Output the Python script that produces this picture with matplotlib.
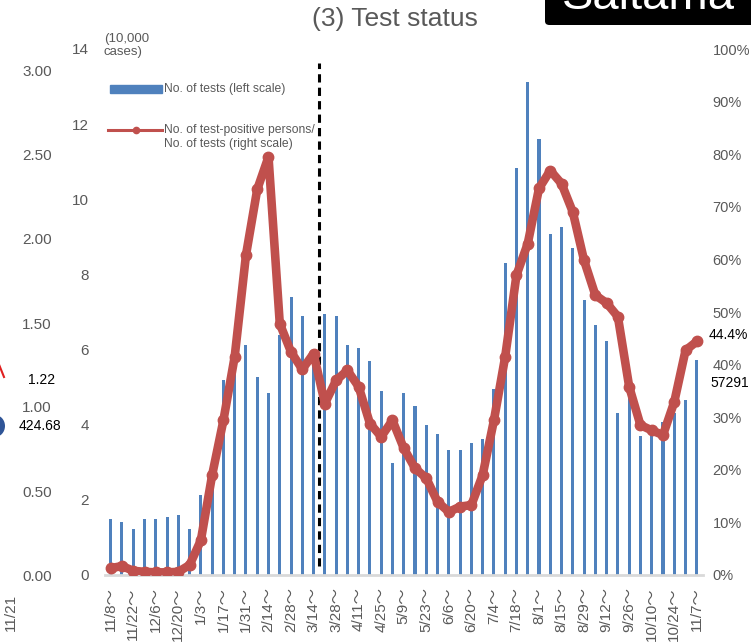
import numpy as np
import matplotlib
matplotlib.use("Agg")
import matplotlib.pyplot as plt
from matplotlib.patches import Rectangle, FancyBboxPatch, Ellipse
from matplotlib.lines import Line2D

plt.rcParams['font.family'] = ['Liberation Sans', 'Noto Sans CJK JP', 'DejaVu Sans']

# ---------------- data ----------------
weeks = ['11/8', '11/15', '11/22', '11/29', '12/6', '12/13', '12/20', '12/27',
         '1/3', '1/10', '1/17', '1/24', '1/31', '2/7', '2/14', '2/21', '2/28',
         '3/7', '3/14', '3/21', '3/28', '4/4', '4/11', '4/18', '4/25', '5/2',
         '5/9', '5/16', '5/23', '5/30', '6/6', '6/13', '6/20', '6/27', '7/4',
         '7/11', '7/18', '7/25', '8/1', '8/8', '8/15', '8/22', '8/29', '9/5',
         '9/12', '9/19', '9/26', '10/3', '10/10', '10/17', '10/24', '10/31', '11/7']

# number of tests (unit: 10,000 cases)
tests = [1.48, 1.42, 1.23, 1.48, 1.48, 1.54, 1.59, 1.23, 2.14, 2.50,
         5.20, 5.80, 6.13, 5.27, 4.84, 6.40, 7.39, 6.90, 5.80, 6.95,
         6.90, 6.11, 6.04, 5.69, 4.91, 2.98, 4.84, 4.49, 4.00, 3.75,
         3.34, 3.34, 3.52, 3.63, 4.96, 8.30, 10.82, 13.11, 11.60, 9.07,
         9.25, 8.71, 7.33, 6.66, 6.24, 4.31, 4.80, 3.71, 3.80, 4.07,
         4.30, 4.67, 5.73]

# test-positive persons / tests (%)
positive_rate = [1.3, 1.7, 0.8, 0.6, 0.5, 0.5, 0.6, 1.9, 6.6, 19.0,
                 29.4, 41.5, 60.8, 73.3, 79.5, 47.8, 42.4, 39.1, 42.1, 32.6,
                 37.0, 38.9, 35.8, 28.8, 26.3, 29.4, 24.1, 20.3, 18.4, 13.9,
                 12.0, 13.0, 13.3, 19.0, 29.4, 41.5, 57.0, 63.0, 73.5, 76.9,
                 74.4, 69.0, 59.8, 53.2, 51.7, 49.1, 35.8, 28.5, 27.5, 26.6,
                 32.9, 42.7, 44.4]

divider_after = '3/14'
last_rate_label = '44.4%'
last_tests_label = '57291'

# stray texts visible at the left border of the screenshot (neighbouring chart)
stray_left_ticks = ['3.00', '2.50', '2.00', '1.50', '1.00', '0.50', '0.00']

# ---------------- styling ----------------
W, H = 751, 644
GRAY = '#595959'
BAR = '#4F81BD'
RED = '#C0504D'


def fx(px):
    return px / W


def fy(py):
    return 1 - py / H


fig = plt.figure(figsize=(W / 100, H / 100), dpi=100)
ax = fig.add_axes([fx(104.5), fy(575), (703 - 104.5) / W, (575 - 49) / H])

x = np.arange(len(weeks))
ax.bar(x, tests, width=0.27, color=BAR, zorder=2)
ax.set_xlim(-0.55, len(weeks) - 0.45)
ax.set_ylim(0, 14)
ax.set_yticks(np.arange(0, 15, 2))
ax.set_xticks(x[::2])
ax.set_xticklabels([w + '～' for w in weeks[::2]], rotation=90,
                   fontsize=11, color=GRAY)
ax.tick_params(axis='x', length=0, pad=9)
ax.tick_params(axis='y', length=0, pad=11, labelsize=11, labelcolor=GRAY)
for s in ['top', 'left', 'right']:
    ax.spines[s].set_visible(False)
ax.spines['bottom'].set_color('#D9D9D9')
ax.spines['bottom'].set_linewidth(2)

# dashed divider
xd = weeks.index(divider_after) + 0.5
ax.axvline(xd, ymin=0.018, ymax=0.973, color='black', lw=2.2,
           dashes=(2.7, 1.7), zorder=3)

ax2 = ax.twinx()
ax2.plot(x, np.array(positive_rate) / 100, color=RED, lw=6.2,
         marker='o', ms=7.5, solid_joinstyle='round', solid_capstyle='round',
         zorder=4)
ax2.set_ylim(0, 1)
ax2.set_yticks(np.arange(0, 1.01, 0.1))
ax2.set_yticklabels([f'{int(round(v * 100))}%' for v in np.arange(0, 1.01, 0.1)])
ax2.tick_params(axis='y', length=0, pad=7, labelsize=10.5, labelcolor=GRAY)
for s in ['top', 'left', 'right', 'bottom']:
    ax2.spines[s].set_visible(False)

# title
fig.text(fx(395), fy(19), '(3) Test status', ha='center', va='center',
         fontsize=19, color=GRAY)

# unit
fig.text(fx(104), fy(45.5), '(10,000\ncases)', ha='left', va='center',
         fontsize=9.5, color=GRAY, linespacing=1.15)

# legend (manual)
fig.add_artist(Rectangle((fx(110), fy(92.5)), fx(162) - fx(110),
                         (92.5 - 85.5) / H, color=BAR, transform=fig.transFigure))
fig.text(fx(164), fy(89), 'No. of tests (left scale)', ha='left', va='center',
         fontsize=8.7, color=GRAY)
fig.add_artist(Line2D([fx(108), fx(162)], [fy(130), fy(130)], color=RED, lw=2.2,
                      transform=fig.transFigure))
fig.add_artist(Line2D([fx(136)], [fy(130)], color=RED, marker='o', ms=4.5,
                      transform=fig.transFigure))
fig.text(fx(164), fy(124), 'No. of test-positive persons/\nNo. of tests (right scale)',
         ha='left', va='top', fontsize=8.7, color=GRAY, linespacing=1.25)

# value annotations on the right
fig.text(fx(709), fy(335), last_rate_label, ha='left', va='center',
         fontsize=10, color='black')
fig.text(fx(710), fy(383), last_tests_label, ha='left', va='center',
         fontsize=10, color='black')

# "Saitama" banner, cut at the top
fig.add_artist(FancyBboxPatch((fx(545), fy(25)), fx(760) - fx(545), 40 / H,
                              boxstyle='round,pad=0,rounding_size=0.006',
                              facecolor='black', edgecolor='none',
                              transform=fig.transFigure))
fig.text(fx(562), fy(9), 'Saitama', ha='left', va='baseline', fontsize=34,
         color='white')

# stray neighbouring-chart fragments on the left edge
stray_y = [72, 156, 240, 325, 408, 493, 577]
for lab, yy in zip(stray_left_ticks, stray_y):
    fig.text(fx(52), fy(yy), lab, ha='right', va='center', fontsize=11, color=GRAY)
fig.text(fx(55), fy(380), '1.22', ha='right', va='center', fontsize=10, color='black')
fig.text(fx(61), fy(426), '424.68', ha='right', va='center', fontsize=10, color='black')
fig.text(fx(11), fy(612), '11/21', ha='center', va='center', rotation=90,
         fontsize=11, color=GRAY)
fig.add_artist(Line2D([fx(-2), fx(4)], [fy(362), fy(377)], color='#E02020', lw=1.5,
                      transform=fig.transFigure))
fig.add_artist(Ellipse((fx(-5), fy(426)), 20 / W, 22 / H, facecolor='#2F5597',
                       edgecolor='none', transform=fig.transFigure))

fig.savefig('out.png', dpi=100)
